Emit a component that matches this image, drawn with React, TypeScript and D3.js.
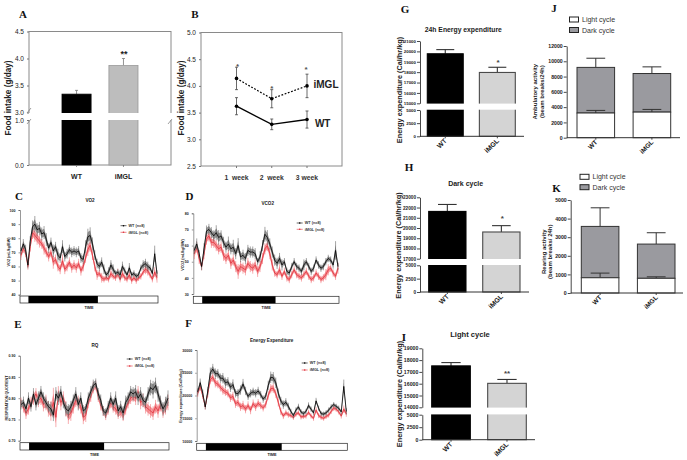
import React, { useRef, useEffect } from 'react';
import * as d3 from 'd3';

const groups = ['WT', 'iMGL'];

// A - food intake
const intakeMean = [3.34, 3.87];
const intakeErr = [0.07, 0.13];

// B - weekly food intake
const weeks = ['1  week', '2  week', '3 week'];
const weeklyWT = [3.62, 3.28, 3.37];
const weeklyWTErr = [0.16, 0.1, 0.16];
const weeklyIMGL = [4.14, 3.76, 4.0];
const weeklyIMGLErr = [0.21, 0.17, 0.22];

// C - VO2
const vo2WT = [71, 76, 72, 61, 78, 88, 90, 86, 87, 83, 84, 79, 73, 77, 71, 74, 68, 66, 74, 67, 69, 72, 70, 71, 70, 71, 66, 65, 74, 81, 82, 76, 68, 62, 60, 63, 58, 54, 56, 61, 58, 55, 56, 54, 60, 57, 54, 59, 54, 55, 53, 54, 59, 61, 62, 60, 59, 55, 69, 55];
const vo2WTErr = [2, 3, 3, 2, 3, 4, 5, 4, 4, 4, 4, 4, 3, 3, 4, 3, 4, 3, 4, 3, 3, 3, 3, 3, 3, 3, 3, 3, 4, 5, 5, 4, 3, 3, 3, 3, 3, 2, 3, 3, 3, 2, 2, 3, 3, 2, 2, 3, 2, 2, 2, 2, 2, 3, 3, 3, 2, 2, 5, 2];
const vo2IMGL = [68, 73, 70, 60, 74, 84, 82, 80, 78, 76, 73, 70, 67, 70, 63, 65, 60, 58, 64, 58, 60, 63, 59, 61, 59, 62, 57, 60, 66, 72, 75, 68, 60, 54, 55, 52, 51, 52, 51, 55, 53, 52, 55, 51, 55, 52, 51, 54, 50, 52, 50, 52, 53, 56, 58, 57, 54, 51, 56, 52];
const vo2IMGLErr = [3, 3, 3, 2, 3, 4, 4, 4, 4, 3, 4, 3, 3, 3, 4, 3, 3, 3, 4, 3, 3, 3, 3, 3, 3, 3, 3, 3, 3, 4, 4, 3, 3, 3, 2, 3, 2, 2, 2, 3, 2, 2, 3, 2, 3, 2, 2, 3, 2, 2, 2, 2, 2, 2, 3, 3, 2, 2, 3, 3];

// D - VCO2
const vco2WT = [57, 61, 55, 47, 58, 69, 70, 68, 66, 68, 65, 66, 62, 59, 61, 58, 59, 55, 60, 53, 54, 52, 57, 56, 56, 55, 50, 53, 60, 67, 65, 61, 56, 51, 49, 52, 48, 50, 44, 43, 47, 50, 47, 46, 44, 48, 50, 47, 44, 46, 51, 48, 46, 47, 50, 52, 51, 48, 57, 47];
const vco2WTErr = [2, 3, 2, 2, 3, 3, 3, 3, 3, 4, 4, 3, 3, 3, 4, 3, 4, 3, 4, 3, 3, 3, 3, 3, 3, 3, 2, 3, 3, 4, 4, 3, 3, 3, 3, 3, 3, 2, 2, 2, 2, 2, 2, 2, 2, 3, 2, 2, 2, 2, 2, 2, 2, 2, 2, 2, 2, 2, 5, 2];
const vco2IMGL = [55, 59, 52, 47, 55, 64, 66, 62, 62, 60, 58, 59, 54, 52, 54, 49, 51, 47, 44, 47, 46, 45, 49, 47, 46, 48, 44, 47, 52, 58, 60, 55, 48, 43, 42, 45, 41, 44, 40, 39, 42, 45, 42, 41, 40, 42, 44, 41, 39, 40, 43, 41, 39, 40, 42, 45, 46, 43, 41, 46];
const vco2IMGLErr = [3, 3, 3, 2, 3, 3, 3, 3, 3, 3, 3, 3, 3, 3, 3, 3, 3, 3, 4, 3, 3, 3, 3, 3, 3, 3, 3, 3, 3, 3, 3, 3, 3, 2, 2, 3, 2, 2, 2, 2, 2, 2, 2, 2, 2, 2, 2, 2, 2, 2, 2, 2, 2, 2, 3, 3, 2, 2, 2, 3];

// E - respiration quotient
const rqWT = [0.785, 0.79, 0.775, 0.8, 0.78, 0.81, 0.785, 0.8, 0.815, 0.8, 0.79, 0.78, 0.775, 0.76, 0.81, 0.8, 0.815, 0.79, 0.775, 0.77, 0.78, 0.795, 0.81, 0.785, 0.8, 0.77, 0.775, 0.8, 0.815, 0.83, 0.835, 0.81, 0.795, 0.77, 0.765, 0.78, 0.8, 0.785, 0.8, 0.77, 0.78, 0.765, 0.79, 0.8, 0.815, 0.81, 0.815, 0.8, 0.81, 0.795, 0.79, 0.81, 0.825, 0.82, 0.83, 0.81, 0.79, 0.775, 0.785, 0.8];
const rqWTErr = [0.01, 0.012, 0.01, 0.012, 0.01, 0.012, 0.012, 0.014, 0.012, 0.012, 0.012, 0.012, 0.014, 0.012, 0.014, 0.014, 0.012, 0.012, 0.014, 0.014, 0.012, 0.012, 0.014, 0.012, 0.012, 0.012, 0.01, 0.012, 0.012, 0.012, 0.01, 0.012, 0.012, 0.01, 0.01, 0.012, 0.012, 0.012, 0.014, 0.012, 0.012, 0.014, 0.014, 0.012, 0.012, 0.014, 0.014, 0.014, 0.014, 0.014, 0.012, 0.014, 0.016, 0.018, 0.016, 0.016, 0.014, 0.014, 0.016, 0.016];
const rqIMGL = [0.79, 0.78, 0.765, 0.775, 0.79, 0.8, 0.81, 0.795, 0.8, 0.785, 0.79, 0.775, 0.77, 0.79, 0.755, 0.81, 0.79, 0.8, 0.775, 0.76, 0.765, 0.78, 0.795, 0.79, 0.78, 0.755, 0.76, 0.79, 0.805, 0.825, 0.83, 0.805, 0.785, 0.77, 0.76, 0.775, 0.79, 0.78, 0.775, 0.765, 0.77, 0.76, 0.775, 0.79, 0.8, 0.805, 0.8, 0.815, 0.79, 0.795, 0.78, 0.775, 0.77, 0.765, 0.78, 0.77, 0.785, 0.77, 0.78, 0.79];
const rqIMGLErr = [0.01, 0.012, 0.012, 0.012, 0.012, 0.014, 0.012, 0.014, 0.014, 0.014, 0.016, 0.016, 0.02, 0.03, 0.02, 0.016, 0.016, 0.014, 0.016, 0.018, 0.016, 0.014, 0.014, 0.014, 0.014, 0.014, 0.014, 0.012, 0.012, 0.012, 0.01, 0.012, 0.012, 0.01, 0.01, 0.012, 0.012, 0.012, 0.012, 0.012, 0.014, 0.012, 0.012, 0.012, 0.012, 0.012, 0.014, 0.012, 0.014, 0.014, 0.014, 0.014, 0.014, 0.014, 0.014, 0.014, 0.014, 0.014, 0.016, 0.016];

// F - energy expenditure over time
const eeWT = [20800, 22800, 20500, 17500, 21000, 25000, 25800, 24800, 24800, 23800, 23800, 22800, 23000, 21800, 22400, 20500, 20400, 21200, 22500, 21000, 19800, 20500, 20800, 20500, 21000, 20200, 19200, 19800, 22200, 24000, 23900, 22800, 20500, 18800, 18000, 18500, 17600, 16500, 15600, 16800, 17500, 16400, 16000, 16500, 17800, 17000, 16200, 18800, 17200, 16000, 15900, 16200, 16800, 17500, 18000, 17600, 17200, 16400, 22000, 16500];
const eeWTErr = [700, 800, 700, 500, 800, 1000, 1000, 1000, 900, 900, 1000, 1000, 900, 900, 1000, 800, 900, 900, 1000, 800, 700, 800, 800, 800, 800, 700, 700, 700, 900, 1100, 1100, 1000, 900, 800, 800, 800, 700, 500, 500, 500, 600, 500, 500, 500, 600, 500, 500, 600, 500, 500, 500, 500, 500, 500, 500, 500, 500, 500, 1300, 600];
const eeIMGL = [20500, 22000, 20000, 17500, 20500, 23500, 24000, 22800, 22500, 21800, 21200, 20800, 20500, 19500, 19800, 18200, 18500, 17500, 17800, 17000, 17800, 16800, 18200, 17500, 18300, 17800, 17300, 18000, 20000, 21500, 21600, 20400, 18500, 16500, 15500, 16200, 15800, 15600, 15200, 15900, 16200, 15300, 15400, 15500, 16300, 15500, 15000, 16800, 15600, 15200, 15000, 15400, 15700, 16500, 17300, 17000, 16400, 15500, 17000, 16000];
const eeIMGLErr = [700, 800, 700, 500, 800, 900, 900, 900, 800, 800, 900, 800, 800, 800, 900, 800, 900, 800, 900, 800, 800, 800, 800, 800, 800, 700, 700, 700, 800, 900, 900, 800, 800, 700, 600, 600, 600, 500, 500, 500, 500, 500, 500, 500, 500, 500, 500, 600, 500, 500, 500, 500, 500, 500, 600, 500, 500, 500, 700, 600];

const darkCycle = [3.6, 33.3];

// G, H, I - broken bars
const energy24h = [19770, 17970];
const energy24hErr = [400, 500];
const energyDark = [21620, 19610];
const energyDarkErr = [680, 620];
const energyLight = [17510, 16030];
const energyLightErr = [280, 330];

// J, K - stacked bars
const ambulatoryLight = [3230, 3350];
const ambulatoryLightErr = [340, 350];
const ambulatoryTotal = [9200, 8400];
const ambulatoryTotalErr = [1200, 870];
const rearingLight = [820, 790];
const rearingLightErr = [250, 80];
const rearingTotal = [3580, 2630];
const rearingTotalErr = [1000, 610];

const SANS = '"Liberation Sans", Arial, sans-serif';
type Sel = d3.Selection<any, unknown, null, undefined>;

function label(svg: Sel, txt: string, x: number, y: number, size: number, opts: any = {}) {
    const t = svg.append('text')
        .attr('x', x)
        .attr('y', y)
        .attr('font-family', opts.family || SANS)
        .attr('font-size', size)
        .attr('font-weight', opts.weight || 'normal')
        .attr('text-anchor', opts.anchor || 'middle')
        .attr('fill', opts.fill || '#222')
        .style('white-space', 'pre')
        .text(txt);
    if (opts.rotate !== undefined) t.attr('transform', `rotate(${opts.rotate},${x},${y})`);
    return t;
}

function panelLetter(svg: Sel, txt: string, x: number, y: number) {
    label(svg, txt, x, y, 11, { family: '"Liberation Serif", serif', weight: 'bold', fill: '#111' });
}

function styleAxis(g: Sel, size: number, color = '#333', weight = 'normal', width = 1) {
    g.selectAll('path').attr('stroke', color).attr('stroke-width', width);
    g.selectAll('line').attr('stroke', color).attr('stroke-width', width);
    g.selectAll('text')
        .attr('font-family', SANS)
        .attr('font-size', size)
        .attr('font-weight', weight)
        .attr('fill', '#222');
}

function errorBar(svg: Sel, x: number, yTop: number, yBase: number, cap: number, color: string, width: number) {
    svg.append('line').attr('x1', x).attr('x2', x).attr('y1', yTop).attr('y2', yBase)
        .attr('stroke', color).attr('stroke-width', width);
    svg.append('line').attr('x1', x - cap).attr('x2', x + cap).attr('y1', yTop).attr('y2', yTop)
        .attr('stroke', color).attr('stroke-width', width);
}

function drawFoodIntake(svg: Sel) {
    const upper = d3.scaleLinear().domain([3, 4.5]).range([112.5, 31.5]);
    const lower = d3.scaleLinear().domain([0, 1]).range([165, 120]);
    const x = d3.scaleBand().domain(groups).range([62, 138]).paddingInner(0.38);
    const colors = ['#000', '#bdbdbd'];

    svg.append('rect').attr('x', 29).attr('y', 31.5).attr('width', 142).attr('height', 133.5)
        .attr('fill', 'none').attr('stroke', '#8a8a8a').attr('stroke-width', 1);

    groups.forEach((g, i) => {
        const bx = x(g) as number;
        errorBar(svg, bx + x.bandwidth() / 2, upper(intakeMean[i] + intakeErr[i]), upper(intakeMean[i]), 1.5, '#777', 0.8);
        svg.append('rect').attr('x', bx).attr('y', upper(intakeMean[i])).attr('width', x.bandwidth())
            .attr('height', 165 - upper(intakeMean[i])).attr('fill', colors[i]).attr('stroke', i ? '#999' : '#000').attr('stroke-width', 0.8);
    });
    svg.append('rect').attr('x', 20).attr('y', 113).attr('width', 155).attr('height', 7).attr('fill', '#fff');

    const ua = svg.append('g').attr('transform', 'translate(29,0)')
        .call(d3.axisLeft(upper).tickValues([3, 3.5, 4, 4.5]).tickSize(2).tickFormat(d3.format('.1f')));
    ua.select('.domain').attr('stroke', 'none');
    styleAxis(ua, 6.5, '#777');
    ua.select('.domain').attr('stroke', 'none');
    const la = svg.append('g').attr('transform', 'translate(29,0)')
        .call(d3.axisLeft(lower).tickValues([0, 1]).tickSize(2).tickFormat(d3.format('.1f')));
    styleAxis(la, 6.5, '#777');
    la.select('.domain').attr('stroke', 'none');
    [[27, 113, 31, 108], [27, 124, 31, 119], [168, 124, 172, 119]].forEach(([a, b, c, d]) => {
        svg.append('line').attr('x1', a).attr('y1', b).attr('x2', c).attr('y2', d).attr('stroke', '#777').attr('stroke-width', 0.7);
    });

    groups.forEach(g => {
        const cx = (x(g) as number) + x.bandwidth() / 2;
        svg.append('line').attr('x1', cx).attr('x2', cx).attr('y1', 165).attr('y2', 167).attr('stroke', '#777').attr('stroke-width', 0.8);
        label(svg, g, cx, 179, 7, { weight: 'bold' });
    });
    label(svg, '**', 124, 57, 9, { weight: 'bold' });
    label(svg, 'Food intake (g/day)', 10.5, 98, 8.2, { weight: 'bold', rotate: -90 });
}

function drawWeekly(svg: Sel) {
    const x = d3.scalePoint().domain(weeks).range([236.5, 307]);
    const y = d3.scaleLinear().domain([2.5, 5]).range([166, 32.5]);

    svg.append('rect').attr('x', 201).attr('y', 32.5).attr('width', 141).attr('height', 133.5)
        .attr('fill', 'none').attr('stroke', '#8a8a8a').attr('stroke-width', 1);
    const ya = svg.append('g').attr('transform', 'translate(201,0)')
        .call(d3.axisLeft(y).tickValues([2.5, 3, 3.5, 4, 4.5, 5]).tickSize(2).tickFormat(d3.format('.1f')));
    styleAxis(ya, 6.5, '#777');
    ya.select('.domain').attr('stroke', 'none');

    weeks.forEach(w => {
        svg.append('line').attr('x1', x(w) as number).attr('x2', x(w) as number).attr('y1', 166).attr('y2', 168).attr('stroke', '#777');
        label(svg, w, x(w) as number, 179.5, 6.8, { weight: 'bold', fill: '#333' });
    });

    const line = d3.line<number>().x((_, i) => x(weeks[i]) as number).y(d => y(d));
    const series = [
        { values: weeklyIMGL, err: weeklyIMGLErr, dash: '1.8,1.6' },
        { values: weeklyWT, err: weeklyWTErr, dash: null },
    ];
    series.forEach(s => {
        s.values.forEach((v, i) => {
            const cx = x(weeks[i]) as number;
            svg.append('line').attr('x1', cx).attr('x2', cx).attr('y1', y(v + s.err[i])).attr('y2', y(v - s.err[i])).attr('stroke', '#444').attr('stroke-width', 0.8);
            [v + s.err[i], v - s.err[i]].forEach(e => {
                svg.append('line').attr('x1', cx - 1.5).attr('x2', cx + 1.5).attr('y1', y(e)).attr('y2', y(e)).attr('stroke', '#444').attr('stroke-width', 0.8);
            });
            svg.append('circle').attr('cx', cx).attr('cy', y(v)).attr('r', 1.8).attr('fill', '#000');
        });
        svg.append('path').attr('d', line(s.values) as string).attr('fill', 'none').attr('stroke', '#000')
            .attr('stroke-width', s.dash ? 1.2 : 1.4).attr('stroke-dasharray', s.dash);
    });
    [[237.5, 69], [271.7, 91], [306, 72]].forEach(([a, b]) => label(svg, '*', a, b, 8, { fill: '#555', weight: 'bold' }));
    label(svg, 'iMGL', 326, 88, 10, { weight: 'bold' });
    label(svg, 'WT', 322.7, 126.7, 10, { weight: 'bold' });
    label(svg, 'Food intake (g/day)', 184, 98, 8.2, { weight: 'bold', rotate: -90 });
}

interface TimeCfg {
    title: string; titleX: number; titleY: number;
    yLabel: string; yLabelX: number; yLabelCy: number;
    left: number; right: number; yRange: [number, number]; domain: [number, number];
    ticks: number[]; tickFmt: string;
    barTop: number; barH: number; timeY: number;
    legendX: number; legendY: [number, number];
    wt: number[]; wtErr: number[]; img: number[]; imgErr: number[];
}

function drawTimePanel(svg: Sel, c: TimeCfg) {
    const x = d3.scaleLinear().domain([0, c.wt.length - 1]).range([c.left + 1, c.right - 1]);
    const bar = d3.scaleLinear().domain([0, c.wt.length - 1]).range([c.left, c.right]);
    const y = d3.scaleLinear().domain(c.domain).range(c.yRange);

    const ya = svg.append('g').attr('transform', `translate(${c.left},0)`)
        .call(d3.axisLeft(y).tickValues(c.ticks).tickSize(1.5).tickFormat(d3.format(c.tickFmt)));
    styleAxis(ya, 3.6, '#333', 'bold', 0.5);

    const series = [
        { v: c.img, e: c.imgErr, band: '#f58f94', whisker: '#ee5c63', line: '#e0323c' },
        { v: c.wt, e: c.wtErr, band: '#8f8f8f', whisker: '#4a4a4a', line: '#000' },
    ];
    series.forEach(s => {
        const area = d3.area<number>()
            .x((_, i) => x(i))
            .y0((d, i) => y(d - s.e[i] * 0.7))
            .y1((d, i) => y(d + s.e[i] * 0.7));
        svg.append('path').attr('d', area(s.v) as string).attr('fill', s.band).attr('opacity', 0.9);
        s.v.forEach((d, i) => {
            svg.append('line').attr('x1', x(i)).attr('x2', x(i)).attr('y1', y(d - s.e[i] * 1.15)).attr('y2', y(d + s.e[i] * 1.15))
                .attr('stroke', s.whisker).attr('stroke-width', 0.5);
        });
        const line = d3.line<number>().x((_, i) => x(i)).y(d => y(d));
        svg.append('path').attr('d', line(s.v) as string).attr('fill', 'none').attr('stroke', s.line).attr('stroke-width', 0.8);
    });

    svg.append('rect').attr('x', c.left).attr('y', c.barTop).attr('width', c.right - c.left).attr('height', c.barH)
        .attr('fill', '#fff').attr('stroke', '#222').attr('stroke-width', 0.7);
    svg.append('rect').attr('x', bar(darkCycle[0])).attr('y', c.barTop).attr('width', bar(darkCycle[1]) - bar(darkCycle[0])).attr('height', c.barH)
        .attr('fill', '#000');

    label(svg, c.title, c.titleX, c.titleY, 4.6, { weight: 'bold' });
    label(svg, 'TIME', (c.left + c.right) / 2, c.timeY, 3.8, { weight: 'bold' });
    label(svg, c.yLabel, c.yLabelX, c.yLabelCy, 3.7, { rotate: -90, weight: 'bold' });

    [['WT (n=8)', '#000'], ['iMGL (n=8)', '#e0323c']].forEach(([t, col], i) => {
        const ly = c.legendY[i];
        svg.append('line').attr('x1', c.legendX).attr('x2', c.legendX + 6).attr('y1', ly).attr('y2', ly).attr('stroke', col).attr('stroke-width', 0.6);
        svg.append('circle').attr('cx', c.legendX + 3).attr('cy', ly).attr('r', 0.8).attr('fill', col);
        label(svg, t, c.legendX + 8, ly + 1.4, 3.8, { anchor: 'start', weight: 'bold', fill: '#333' });
    });
}

interface BrokenCfg {
    title: string; titleX: number; titleY: number; titleSize: number;
    axisX: number; axisEnd: number;
    upperDomain: [number, number]; upperRange: [number, number]; upperTicks: number[];
    lowerRange: [number, number];
    barRange: [number, number];
    values: number[]; errs: number[];
    star: string; starX: number; starY: number;
    yLabelX: number; yLabelCy: number; tickSize: number;
}

function drawBroken(svg: Sel, c: BrokenCfg) {
    const upper = d3.scaleLinear().domain(c.upperDomain).range(c.upperRange);
    const lower = d3.scaleLinear().domain([0, 5000]).range(c.lowerRange);
    const x = d3.scaleBand().domain(groups).range(c.barRange).paddingInner(0.31);
    const colors = ['#000', '#d4d4d4'];
    const strokes = ['#000', '#4a4a4a'];

    groups.forEach((g, i) => {
        const bx = x(g) as number;
        const cx = bx + x.bandwidth() / 2;
        const top = upper(c.values[i]);
        errorBar(svg, cx, upper(c.values[i] + c.errs[i]), top, x.bandwidth() / 4, '#333', 1.1);
        svg.append('rect').attr('x', bx).attr('y', top).attr('width', x.bandwidth()).attr('height', c.lowerRange[0] - top)
            .attr('fill', colors[i]).attr('stroke', strokes[i]).attr('stroke-width', 1.1);
    });
    svg.append('rect').attr('x', c.axisX - 3).attr('y', c.upperRange[0] + 0.3).attr('width', c.axisEnd - c.axisX + 3)
        .attr('height', c.lowerRange[1] - c.upperRange[0] - 0.6).attr('fill', '#fff');

    const ua = svg.append('g').attr('transform', `translate(${c.axisX},0)`)
        .call(d3.axisLeft(upper).tickValues(c.upperTicks).tickSize(3).tickPadding(1).tickSizeOuter(0).tickFormat(d3.format('d')));
    styleAxis(ua, c.tickSize, '#333', 'bold', 0.9);
    const la = svg.append('g').attr('transform', `translate(${c.axisX},0)`)
        .call(d3.axisLeft(lower).tickValues([0, 2500, 5000]).tickSize(3).tickPadding(1).tickSizeOuter(0).tickFormat(d3.format('d')));
    styleAxis(la, c.tickSize, '#333', 'bold', 0.9);

    const xa = svg.append('g').attr('transform', `translate(0,${c.lowerRange[0]})`)
        .call(d3.axisBottom(x).tickSize(2).tickSizeOuter(0));
    xa.select('.domain').remove();
    styleAxis(xa, 6.8, '#333', 'bold', 0.9);
    xa.selectAll('text').attr('text-anchor', 'end').attr('y', 0).attr('dx', 0).attr('dy', 0)
        .attr('transform', 'translate(2,5) rotate(-45)');
    svg.append('line').attr('x1', c.axisX).attr('x2', c.axisEnd).attr('y1', c.lowerRange[0]).attr('y2', c.lowerRange[0])
        .attr('stroke', '#333').attr('stroke-width', 1);

    label(svg, c.title, c.titleX, c.titleY, c.titleSize, { weight: 'bold' });
    label(svg, c.star, c.starX, c.starY, 8, { weight: 'bold', fill: '#444' });
    label(svg, 'Energy expenditure (Cal/hr/kg)', c.yLabelX, c.yLabelCy, 7.3, { weight: 'bold', rotate: -90 });
}

interface StackCfg {
    axisX: number; axisEnd: number;
    domain: [number, number]; range: [number, number]; ticks: number[];
    barRange: [number, number];
    light: number[]; lightErr: number[]; total: number[]; totalErr: number[];
    legendX: number; legendY: [number, number];
    labels: [string, string]; labelX: [number, number]; labelCy: number;
}

function drawStacked(svg: Sel, c: StackCfg) {
    const y = d3.scaleLinear().domain(c.domain).range(c.range);
    const x = d3.scaleBand().domain(groups).range(c.barRange).paddingInner(0.33);
    const stroke = '#333';
    const stack = d3.stack<any>().keys(['light', 'dark'])(
        groups.map((g, i) => ({ group: g, light: c.light[i], dark: c.total[i] - c.light[i] }))
    );

    groups.forEach((g, i) => {
        const bx = x(g) as number;
        const cx = bx + x.bandwidth() / 2;
        errorBar(svg, cx, y(c.total[i] + c.totalErr[i]), y(c.total[i]), x.bandwidth() / 4, stroke, 1);
        const [, lightTop] = stack[0][i];
        const [, darkTop] = stack[1][i];
        svg.append('rect').attr('x', bx).attr('y', y(darkTop)).attr('width', x.bandwidth()).attr('height', y(lightTop) - y(darkTop))
            .attr('fill', '#9a9a9f').attr('stroke', stroke).attr('stroke-width', 1);
        errorBar(svg, cx, y(c.light[i] + c.lightErr[i]), y(c.light[i]), x.bandwidth() / 4, stroke, 1);
        svg.append('rect').attr('x', bx).attr('y', y(lightTop)).attr('width', x.bandwidth()).attr('height', y(0) - y(lightTop))
            .attr('fill', '#fff').attr('stroke', stroke).attr('stroke-width', 1);
    });

    const ya = svg.append('g').attr('transform', `translate(${c.axisX},0)`)
        .call(d3.axisLeft(y).tickValues(c.ticks).tickSize(3).tickPadding(1).tickSizeOuter(0).tickFormat(d3.format('d')));
    styleAxis(ya, 5.2, '#333', 'bold', 0.9);

    const xa = svg.append('g').attr('transform', `translate(0,${y(0)})`)
        .call(d3.axisBottom(x).tickSize(2).tickSizeOuter(0));
    xa.select('.domain').remove();
    styleAxis(xa, 6.5, '#333', 'bold', 0.9);
    xa.selectAll('text').attr('text-anchor', 'end').attr('y', 0).attr('dx', 0).attr('dy', 0)
        .attr('transform', 'translate(2,5) rotate(-45)');
    svg.append('line').attr('x1', c.axisX).attr('x2', c.axisEnd).attr('y1', y(0)).attr('y2', y(0)).attr('stroke', '#333').attr('stroke-width', 1);

    ['Light cycle', 'Dark cycle'].forEach((t, i) => {
        svg.append('rect').attr('x', c.legendX).attr('y', c.legendY[i]).attr('width', 9).attr('height', 5)
            .attr('fill', i ? '#9a9a9f' : '#fff').attr('stroke', '#222').attr('stroke-width', 1);
        label(svg, t, c.legendX + 12.5, c.legendY[i] + 5, 7, { anchor: 'start', fill: '#333' });
    });
    c.labels.forEach((t, i) => {
        label(svg, t, c.labelX[i], c.labelCy, 6, { rotate: -90, weight: 'bold' });
    });
}

const App: React.FC = () => {
    const ref = useRef<SVGSVGElement | null>(null);

    useEffect(() => {
        if (!ref.current) return;
        const svg = d3.select(ref.current) as unknown as Sel;
        svg.selectAll('*').remove();

        panelLetter(svg, 'A', 23, 18);
        panelLetter(svg, 'B', 195, 18);
        panelLetter(svg, 'C', 19, 200);
        panelLetter(svg, 'D', 189.5, 200);
        panelLetter(svg, 'E', 18, 328);
        panelLetter(svg, 'F', 188.5, 327);
        panelLetter(svg, 'G', 405, 13);
        panelLetter(svg, 'H', 409, 171);
        panelLetter(svg, 'I', 404, 341);
        panelLetter(svg, 'J', 554, 12);
        panelLetter(svg, 'K', 556.5, 192);

        drawFoodIntake(svg);
        drawWeekly(svg);

        drawTimePanel(svg, {
            title: 'VO2', titleX: 90, titleY: 202, yLabel: 'VO2 (mL/kg/BW)', yLabelX: 9.5, yLabelCy: 252,
            left: 20, right: 158, yRange: [294.7, 210], domain: [40, 100], ticks: [40, 50, 60, 70, 80, 90, 100], tickFmt: 'd',
            barTop: 296, barH: 7, timeY: 309, legendX: 120.5, legendY: [225.7, 232.3],
            wt: vo2WT, wtErr: vo2WTErr, img: vo2IMGL, imgErr: vo2IMGLErr,
        });
        drawTimePanel(svg, {
            title: 'VCO2', titleX: 267.7, titleY: 204.8, yLabel: 'VCO2 (mL/kg/BW)', yLabelX: 183.5, yLabelCy: 255,
            left: 193.3, right: 339, yRange: [294, 213.3], domain: [30, 80], ticks: [30, 40, 50, 60, 70, 80], tickFmt: 'd',
            barTop: 296.3, barH: 7, timeY: 309, legendX: 296.7, legendY: [223, 229.3],
            wt: vco2WT, wtErr: vco2WTErr, img: vco2IMGL, imgErr: vco2IMGLErr,
        });
        drawTimePanel(svg, {
            title: 'RQ', titleX: 95, titleY: 346.5, yLabel: 'RESPIRATION QUOTIENT', yLabelX: 7.5, yLabelCy: 398,
            left: 20, right: 169, yRange: [440.7, 355.7], domain: [0.7, 0.9], ticks: [0.7, 0.75, 0.8, 0.85, 0.9], tickFmt: '.2f',
            barTop: 442.7, barH: 7.3, timeY: 455.5, legendX: 126.7, legendY: [359, 366],
            wt: rqWT, wtErr: rqWTErr, img: rqIMGL, imgErr: rqIMGLErr,
        });
        drawTimePanel(svg, {
            title: 'Energy Expenditure', titleX: 271.7, titleY: 341.5, yLabel: 'Energy expenditure (Cal/hr/kg)', yLabelX: 182, yLabelCy: 396,
            left: 196.7, right: 347.3, yRange: [441, 350], domain: [10000, 30000], ticks: [10000, 15000, 20000, 25000, 30000], tickFmt: 'd',
            barTop: 443.3, barH: 7, timeY: 455.5, legendX: 301.7, legendY: [363, 370],
            wt: eeWT, wtErr: eeWTErr, img: eeIMGL, imgErr: eeIMGLErr,
        });

        drawBroken(svg, {
            title: '24h Energy expenditure', titleX: 463.3, titleY: 31.5, titleSize: 6.8,
            axisX: 420, axisEnd: 524,
            upperDomain: [15000, 21000], upperRange: [103.3, 41], upperTicks: [15000, 16000, 17000, 18000, 19000, 20000, 21000],
            lowerRange: [136.3, 110], barRange: [427.3, 515.3],
            values: energy24h, errs: energy24hErr, star: '*', starX: 498, starY: 64.5,
            yLabelX: 401.5, yLabelCy: 90, tickSize: 4.4,
        });
        drawBroken(svg, {
            title: 'Dark cycle', titleX: 465.7, titleY: 185.5, titleSize: 7,
            axisX: 420, axisEnd: 529,
            upperDomain: [17000, 23000], upperRange: [258.7, 197.3], upperTicks: [17000, 18000, 19000, 20000, 21000, 22000, 23000],
            lowerRange: [292, 265.3], barRange: [428.7, 520],
            values: energyDark, errs: energyDarkErr, star: '*', starX: 502.3, starY: 221,
            yLabelX: 401, yLabelCy: 245.5, tickSize: 4.7,
        });
        drawBroken(svg, {
            title: 'Light cycle', titleX: 470, titleY: 337.3, titleSize: 7.6,
            axisX: 422.3, axisEnd: 535,
            upperDomain: [14000, 19000], upperRange: [407.3, 348.3], upperTicks: [14000, 15000, 16000, 17000, 18000, 19000],
            lowerRange: [439.7, 414.7], barRange: [431.7, 526.3],
            values: energyLight, errs: energyLightErr, star: '**', starX: 507, starY: 375.5,
            yLabelX: 401.5, yLabelCy: 394, tickSize: 5.2,
        });

        drawStacked(svg, {
            axisX: 566.7, axisEnd: 680, domain: [0, 12000], range: [137.7, 46],
            ticks: [0, 2000, 4000, 6000, 8000, 10000, 12000], barRange: [577, 670.7],
            light: ambulatoryLight, lightErr: ambulatoryLightErr, total: ambulatoryTotal, totalErr: ambulatoryTotalErr,
            legendX: 569.5, legendY: [17, 27.5],
            labels: ['Ambulatory activity', '(beam breaks/24h)'], labelX: [537.5, 544], labelCy: 91.7,
        });
        drawStacked(svg, {
            axisX: 570.7, axisEnd: 683, domain: [0, 5000], range: [293, 200],
            ticks: [0, 1000, 2000, 3000, 4000, 5000], barRange: [581.3, 675],
            light: rearingLight, lightErr: rearingLightErr, total: rearingTotal, totalErr: rearingTotalErr,
            legendX: 580, legendY: [174.3, 184.7],
            labels: ['Rearing activity', '(beam breaks/ 24h)'], labelX: [546, 552.5], labelCy: 251.7,
        });
    }, []);

    return (
        <svg ref={ref} width={687} height={460} style={{ position: 'absolute', left: 0, top: 0, background: '#fff' }} />
    );
};

export default App;
